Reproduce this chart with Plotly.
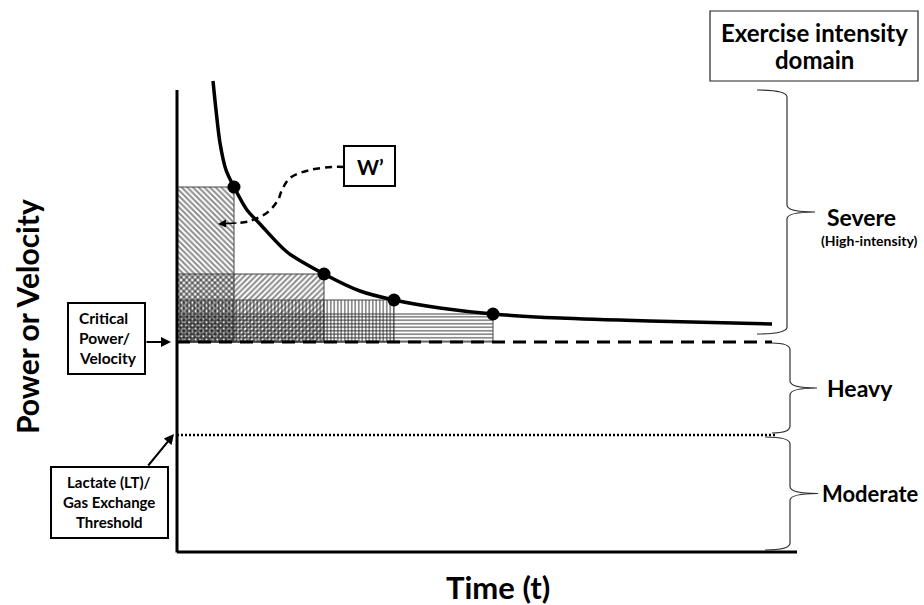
import plotly.graph_objects as go

# ---------------- data (arbitrary units: time, power) ----------------
time_points = [5.7, 14.7, 21.7, 31.6]
power_points = [36.4, 27.7, 25.1, 23.7]
critical_power = 20.9
lactate_threshold = 11.6
curve_time = [3.6, 3.9, 4.3, 4.9, 5.7, 7.0, 8.3, 11.0, 14.7, 18.3, 21.7, 26.3, 31.6, 38.3, 47.3, 59.5]
curve_power = [47.0, 44.1, 40.8, 38.1, 36.4, 34.1, 32.7, 29.9, 27.7, 26.0, 25.1, 24.3, 23.7, 23.3, 23.0, 22.7]
hatch_shapes = ["\\", "/", "|", "-"]
domain_names = ["Severe", "Heavy", "Moderate"]
domain_low = [21.7, 11.8, 0.1]
domain_high = [46.1, 20.8, 11.4]
axis_top = 46.1
axis_end = 62.0
line_end = 59.5
wprime_path_t = [16.7, 15.6, 13.3, 11.3, 10.5, 10.1, 9.1, 7.3, 6.1]
wprime_path_p = [38.4, 38.4, 38.1, 37.3, 36.1, 35.1, 33.9, 33.0, 32.8]

FONT = "Lato"


def px(x):
    return (x - 177) / 10.0


def py(y):
    return (551 - y) / 10.0


fig = go.Figure()

# hatched W' rectangles
hatch_size = {"\\": 4, "/": 4, "|": 3.5, "-": 3.5}
for t, p, hs in zip(time_points, power_points, hatch_shapes):
    fig.add_trace(go.Scatter(
        x=[0, t, t, 0, 0], y=[critical_power, critical_power, p, p, critical_power],
        mode="lines", fill="toself", fillcolor="rgba(0,0,0,0)",
        fillpattern=dict(shape=hs, size=hatch_size[hs], solidity=0.5, fgcolor="#1a1a1a",
                         bgcolor="rgba(0,0,0,0)", fillmode="overlay"),
        line=dict(color="#444444", width=1), hoverinfo="skip"))

# critical power (dashed) and lactate threshold (dotted)
fig.add_trace(go.Scatter(x=[0, line_end], y=[critical_power, critical_power], mode="lines",
                         line=dict(color="black", width=3.2, dash="13px,8px")))
fig.add_trace(go.Scatter(x=[0, line_end + 0.5], y=[lactate_threshold, lactate_threshold], mode="lines",
                         line=dict(color="black", width=2.5, dash="2px,2px")))

# hyperbolic curve
fig.add_trace(go.Scatter(x=curve_time, y=curve_power, mode="lines",
                         line=dict(color="black", width=3.5, shape="spline", smoothing=0.8)))
fig.add_trace(go.Scatter(x=time_points, y=power_points, mode="markers",
                         marker=dict(color="black", size=13)))

# W' dashed connector
fig.add_trace(go.Scatter(x=wprime_path_t, y=wprime_path_p, mode="lines",
                         line=dict(color="black", width=2.5, dash="7px,5px", shape="spline")))

shapes = []
# axes
shapes.append(dict(type="line", x0=0, x1=0, y0=-0.15, y1=axis_top, line=dict(color="black", width=3)))
shapes.append(dict(type="line", x0=0, x1=axis_end, y0=-0.1, y1=-0.1, line=dict(color="black", width=3)))

# braces
brace_x = [(px(757), px(787), px(815)), (px(772), px(790), px(817)), (px(765), px(790), px(818))]
r = 0.7
for (lo, hi), (xl, xv, xt) in zip(zip(domain_low, domain_high), brace_x):
    ym = (lo + hi) / 2
    path = (f"M {xl},{hi} Q {xv},{hi} {xv},{hi - r} L {xv},{ym + r} Q {xv},{ym} {xt},{ym} "
            f"Q {xv},{ym} {xv},{ym - r} L {xv},{lo + r} Q {xv},{lo} {xl},{lo}")
    shapes.append(dict(type="path", path=path, line=dict(color="#333333", width=1.2)))

# boxes
box_style = dict(type="rect", line=dict(color="black", width=2), fillcolor="white")
shapes.append(dict(box_style, x0=px(710), x1=px(918), y0=py(81), y1=py(11), line=dict(color="#222", width=1.2)))
shapes.append(dict(box_style, x0=px(344), x1=px(395), y0=py(186), y1=py(146)))
shapes.append(dict(box_style, x0=px(68), x1=px(145), y0=py(374), y1=py(303)))
shapes.append(dict(box_style, x0=px(51), x1=px(168), y0=py(538), y1=py(467)))

annotations = []


def txt(text, x, y, size, xanchor="center", angle=0):
    annotations.append(dict(text=f"<b>{text}</b>", x=x, y=y, xref="x", yref="y", showarrow=False,
                            xanchor=xanchor, yanchor="middle", textangle=angle,
                            font=dict(family=FONT, size=size, color="black")))


txt("Power or Velocity", px(27), py(317), 30, angle=-90)
txt("Time (t)", px(498), py(587), 31)
txt("Exercise intensity", px(814), py(32), 24)
txt("domain", px(814), py(59), 24)
txt("W’", px(370), py(166), 21)
for i, s in enumerate(["Critical", "Power/", "Velocity"]):
    txt(s, px(77), py(318 + 20 * i), 15.5, xanchor="left")
for i, s in enumerate(["Lactate (LT)/", "Gas Exchange", "Threshold"]):
    txt(s, px(109), py(482 + 20 * i), 15)

label_y = [py(217), py(388), py(493)]
label_x = [px(825), px(825), px(820)]
label_size = [23, 23, 22]
for name, x, y, s in zip(domain_names, label_x, label_y, label_size):
    txt(name, x, y, s, xanchor="left")
txt("(High-intensity)", px(869), py(240), 14)

# arrows
arrow = dict(xref="x", yref="y", axref="x", ayref="y", showarrow=True, text="",
             arrowhead=2, arrowsize=1, arrowwidth=2, arrowcolor="black")
annotations.append(dict(arrow, x=px(171), y=py(342), ax=px(145), ay=py(342)))
annotations.append(dict(arrow, x=px(174), y=py(434), ax=px(147), ay=py(467)))
annotations.append(dict(arrow, x=px(218), y=py(224), ax=px(238), ay=py(223), arrowwidth=1.6))

fig.update_layout(
    width=924, height=605, margin=dict(l=0, r=0, t=0, b=0),
    paper_bgcolor="white", plot_bgcolor="white", showlegend=False,
    xaxis=dict(range=[px(0), px(924)], visible=False, fixedrange=True),
    yaxis=dict(range=[py(605), py(0)], visible=False, fixedrange=True),
    shapes=shapes, annotations=annotations,
)

fig.write_html("out.html", config={"displayModeBar": False},
               post_script="document.body.style.margin='0px';document.body.style.overflow='hidden';")
